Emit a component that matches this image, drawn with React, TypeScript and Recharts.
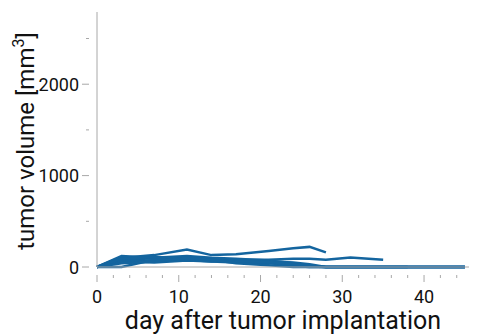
import React from 'react';
import { LineChart, Line, XAxis, YAxis, Label } from 'recharts';

const days = [0, 3, 7, 11, 14, 17, 21, 24, 26, 28, 31, 35, 38, 42, 45];

// one array per mouse, null where no measurement
const mouseA = [0, 100, 130, 190, 130, 140, 175, 205, 220, 160, null, null, null, null, null];
const mouseB = [0, 80, 70, 100, 90, 80, 80, 90, 90, 80, 105, 80, null, null, null];
const mouseC = [0, 110, 90, 110, 90, 60, 50, 10, 0, 0, 0, 0, 0, 0, 0];
const mouseD = [0, 0, 80, 80, 60, 50, 40, 20, 5, 0, 0, 0, 0, 0, 0];
const mouseE = [0, 120, 100, 120, 100, 90, 70, 40, 10, 0, 0, 0, 0, 0, 0];
const mouseF = [0, 60, 50, 70, 60, 70, 60, 50, 30, 0, 0, 0, 0, null, null];
const mouseG = [0, 90, 110, 90, 70, 60, 55, 30, 10, 0, 0, 0, 0, 0, 0];
const mouseH = [0, 40, 60, 100, 80, 40, 20, 0, 0, 0, 0, 0, 0, 0, 0];

const series = { mouseA, mouseB, mouseC, mouseD, mouseE, mouseF, mouseG, mouseH };

const xTicks = [0, 2, 4, 6, 8, 10, 12, 14, 16, 18, 20, 22, 24, 26, 28, 30, 32, 34, 36, 38, 40, 42, 44];
const yTicks = [0, 500, 1000, 1500, 2000, 2500];

const data = days.map((d, i) => {
  const row: Record<string, number | null> = { day: d };
  Object.entries(series).forEach(([k, v]) => {
    row[k] = v[i];
  });
  return row;
});

const AXIS = '#a8a8a8';
const BLUE = '#14659f';
const FONT = 'Roboto, "Liberation Sans", sans-serif';

const XTick = (props: any) => {
  const { x, y, payload } = props;
  const major = payload.value % 10 === 0;
  return (
    <g>
      <line x1={x} y1={y} x2={x} y2={y + (major ? 7 : 3)} stroke={AXIS} strokeWidth={1} />
      {major && (
        <text x={x} y={y + 28} textAnchor="middle" fontSize={18} fill="#111" fontFamily={FONT}>
          {payload.value}
        </text>
      )}
    </g>
  );
};

const YTick = (props: any) => {
  const { x, y, payload } = props;
  const major = payload.value % 1000 === 0;
  return (
    <g>
      <line x1={x} y1={y} x2={x - (major ? 7 : 3)} y2={y} stroke={AXIS} strokeWidth={1} />
      {major && (
        <text x={x - 10} y={y + 6.5} textAnchor="end" fontSize={18} fill="#111" fontFamily={FONT}>
          {payload.value}
        </text>
      )}
    </g>
  );
};

const YTitle = () => (
  <text
    x={34}
    y={141}
    transform="rotate(-90 34 141)"
    textAnchor="middle"
    fontSize={24}
    fill="#111"
    fontFamily={FONT}
  >
    tumor volume [mm<tspan dy={-10} fontSize={16}>3</tspan>
    <tspan dy={10}>]</tspan>
  </text>
);

export default function App() {
  return (
    <div style={{ position: 'absolute', left: 0, top: 0, background: '#fff' }}>
      <LineChart width={479} height={335} data={data} margin={{ top: 12, right: 10, bottom: 0, left: 0 }}>
        <XAxis
          type="number"
          dataKey="day"
          domain={[0, 45.5]}
          ticks={xTicks}
          interval={0}
          tick={<XTick />}
          tickLine={false}
          axisLine={{ stroke: AXIS }}
          height={68}
        >
          <Label
            value="day after tumor implantation"
            position="insideBottom"
            offset={6}
            style={{ fontSize: 25, fill: '#111', fontFamily: FONT }}
          />
        </XAxis>
        <YAxis
          type="number"
          domain={[0, 2790]}
          ticks={yTicks}
          interval={0}
          tick={<YTick />}
          tickLine={false}
          axisLine={{ stroke: AXIS }}
          width={97}
        >
          <Label content={<YTitle />} />
        </YAxis>
        {Object.keys(series).map((k) => (
          <Line
            key={k}
            dataKey={k}
            type="linear"
            stroke={BLUE}
            strokeWidth={2.5}
            dot={false}
            connectNulls={false}
            isAnimationActive={false}
          />
        ))}
      </LineChart>
    </div>
  );
}
